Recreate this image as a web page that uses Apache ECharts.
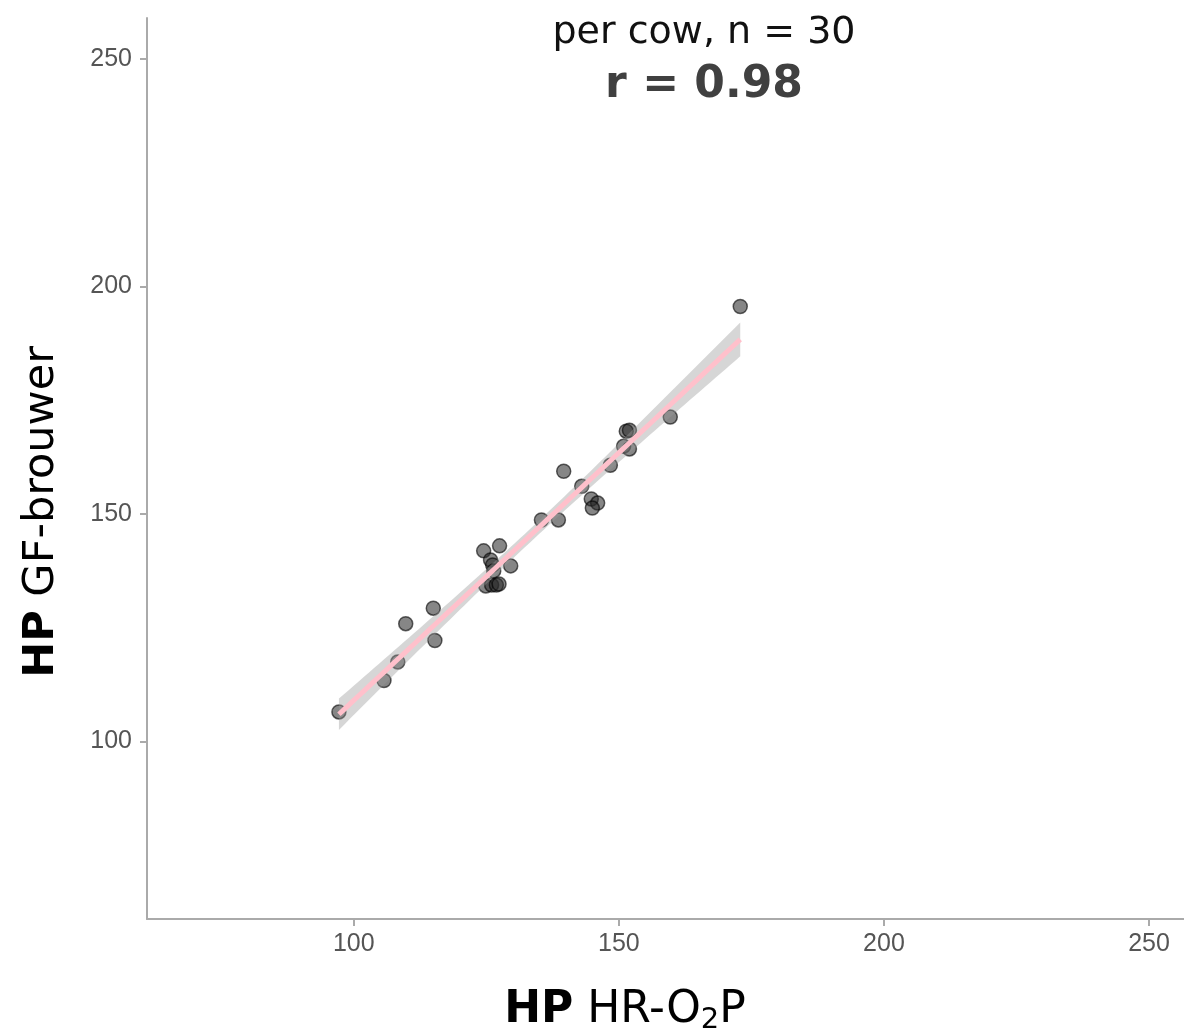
<!DOCTYPE html>
<html>
<head>
<meta charset="utf-8">
<script src="https://cdn.jsdelivr.net/npm/echarts@6/dist/echarts.min.js"></script>
<style>
html,body{margin:0;padding:0;background:#fff;}
#chart{width:1184px;height:1034px;}
</style>
</head>
<body>
<div id="chart"></div>
<script>
const xVals = [97.2,105.7,108.3,109.8,115.0,115.3,124.5,127.5,125.8,126.2,126.4,129.6,124.9,126.0,126.9,127.4,139.6,143.0,144.8,146.0,145.0,135.4,138.6,148.4,150.9,152.0,151.4,152.0,159.7,172.9];
const yVals = [106.5,113.4,117.5,125.9,129.3,122.2,141.9,143.0,139.9,138.8,137.5,138.6,134.2,134.4,134.4,134.6,159.4,156.1,153.3,152.4,151.3,148.7,148.7,160.7,164.9,164.3,168.2,168.4,171.3,195.6];
const tickValues = [100,150,200,250];
const titleLine1 = 'per cow, n = 30';
const titleLine2 = 'r = 0.98';

// linear fit with 95% confidence band (computed from the data)
const n = xVals.length;
const xm = xVals.reduce((a,b)=>a+b,0)/n;
const ym = yVals.reduce((a,b)=>a+b,0)/n;
let sxx=0, sxy=0;
for(let i=0;i<n;i++){sxx+=(xVals[i]-xm)**2; sxy+=(xVals[i]-xm)*(yVals[i]-ym);}
const slope = sxy/sxx, icpt = ym - slope*xm;
let sse=0;
for(let i=0;i<n;i++){sse+=(yVals[i]-(icpt+slope*xVals[i]))**2;}
const s = Math.sqrt(sse/(n-2));
const tcrit = 2.048;
const xmin = Math.min(...xVals), xmax = Math.max(...xVals);
const fit = [], upper = [], lower = [];
for(let k=0;k<=80;k++){
  const x = xmin + (xmax-xmin)*k/80;
  const yh = icpt + slope*x;
  const se = s*Math.sqrt(1/n + (x-xm)**2/sxx);
  fit.push([x,yh]); upper.push([x,yh+tcrit*se]); lower.push([x,yh-tcrit*se]);
}
const bandPoly = upper.concat(lower.slice().reverse());

const chart = echarts.init(document.getElementById('chart'));
const axisCommon = {
  type:'value',
  axisLine:{show:true, onZero:false, lineStyle:{color:'#aaaaaa', width:2}},
  axisTick:{show:true, customValues:tickValues, length:7, lineStyle:{color:'#aaaaaa', width:2}},
  axisLabel:{customValues:tickValues, color:'#555555', fontSize:25, fontFamily:'Liberation Sans'},
  splitLine:{show:false}
};
chart.setOption({
  animation:false,
  backgroundColor:'#ffffff',
  grid:{left:147, top:18, right:0, bottom:115, containLabel:false},
  xAxis:Object.assign({}, axisCommon, {min:61, max:256.6, axisLabel:Object.assign({}, axisCommon.axisLabel, {margin:13})}),
  yAxis:Object.assign({}, axisCommon, {min:61, max:259, axisLabel:Object.assign({}, axisCommon.axisLabel, {margin:15})}),
  title:[
    {text:titleLine1, left:699, top:9, textAlign:'center',
     textStyle:{fontFamily:'DejaVu Sans', fontWeight:'normal', fontSize:38, color:'#111111'}},
    {text:titleLine2, left:699, top:59, textAlign:'center',
     textStyle:{fontFamily:'DejaVu Sans', fontWeight:'bold', fontSize:44, color:'#404040'}},
    {text:'{b|HP}{n| HR-O}{s|2}{n|P}', left:620, top:982, textAlign:'center',
     textStyle:{rich:{
       b:{fontFamily:'DejaVu Sans', fontWeight:'bold', fontSize:44, color:'#000'},
       n:{fontFamily:'DejaVu Sans', fontWeight:'normal', fontSize:44, color:'#000'},
       s:{fontFamily:'DejaVu Sans', fontWeight:'normal', fontSize:29, color:'#000', verticalAlign:'bottom', padding:[19,0,0,0]}
     }}}
  ],
  graphic:[{
    type:'text', x:20, y:512, rotation:Math.PI/2, silent:true,
    style:{text:'{b|HP}{n| GF-brouwer}', align:'center', verticalAlign:'top',
      rich:{
        b:{fontFamily:'DejaVu Sans', fontWeight:'bold', fontSize:43, fill:'#000'},
        n:{fontFamily:'DejaVu Sans', fontWeight:'normal', fontSize:43, fill:'#000'}
      }}
  }],
  series:[
    {type:'scatter', data:xVals.map((x,i)=>[x,yVals[i]]), symbolSize:14, z:2,
     itemStyle:{color:'rgba(40,40,40,0.7)', borderColor:'rgba(0,0,0,0.75)', borderWidth:1.5}},
    {type:'custom', z:3, silent:true, data:[0],
     renderItem:function(params, api){
       const pts = bandPoly.map(p=>api.coord(p));
       return {type:'polygon', shape:{points:pts}, style:{fill:'rgba(153,153,153,0.4)'}};
     }},
    {type:'line', data:fit, showSymbol:false, z:4, lineStyle:{color:'#FFC0CB', width:5}}
  ]
});
</script>
</body>
</html>
